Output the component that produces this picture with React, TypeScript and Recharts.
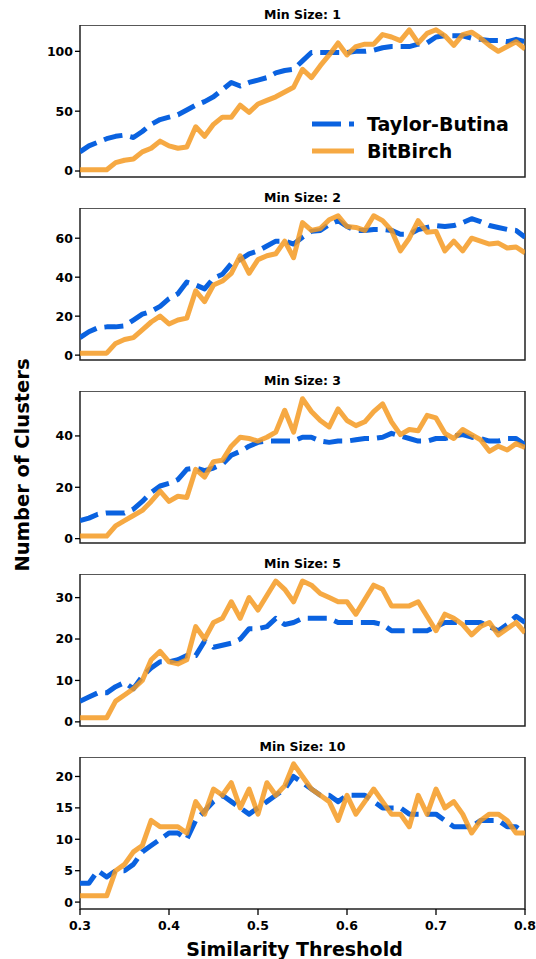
import { LineChart, Line, XAxis, YAxis, ReferenceArea } from 'recharts';

const THRESHOLDS = [
  0.3, 0.31, 0.32, 0.33, 0.34, 0.35, 0.36, 0.37, 0.38, 0.39,
  0.4, 0.41, 0.42, 0.43, 0.44, 0.45, 0.46, 0.47, 0.48, 0.49,
  0.5, 0.51, 0.52, 0.53, 0.54, 0.55, 0.56, 0.57, 0.58, 0.59,
  0.6, 0.61, 0.62, 0.63, 0.64, 0.65, 0.66, 0.67, 0.68, 0.69,
  0.7, 0.71, 0.72, 0.73, 0.74, 0.75, 0.76, 0.77, 0.78, 0.79, 0.8,
];
const X_TICKS = [0.3, 0.4, 0.5, 0.6, 0.7, 0.8];

// min size 1
const TB_1 = [
  16, 21, 24, 27, 29, 30, 28, 33, 39, 43,
  45, 47, 51, 55, 58, 62, 68, 74, 71, 74,
  76, 78, 82, 84, 85, 92, 99, 99, 99, 99,
  99, 100, 100, 101, 103, 104, 104, 104, 106, 107,
  112, 113, 113, 113, 111, 110, 109, 109, 108, 110, 108,
];
const BB_1 = [
  1, 1, 1, 1, 7, 9, 10, 16, 19, 25,
  21, 19, 20, 37, 29, 39, 45, 45, 55, 49,
  56, 59, 62, 66, 70, 85, 78, 88, 97, 107,
  97, 104, 106, 106, 114, 112, 109, 118, 107, 115,
  118, 113, 105, 114, 116, 111, 105, 100, 104, 108, 102,
];

// min size 2
const TB_2 = [
  9, 12, 14, 14.5, 14.5, 15, 18, 21, 22.5, 25,
  29, 31.5, 37.5, 36, 34, 39.5, 41.5, 47, 49, 52,
  53.5, 56, 58.5, 58.5, 57, 60.5, 63.5, 64, 67, 69,
  66, 64, 64, 64.5, 64.5, 64, 62, 62, 64.5, 65.5,
  66.5, 66, 66.5, 68, 70, 68.5, 66.5, 65.5, 64.5, 64, 60.5,
];
const BB_2 = [
  1, 1, 1, 1, 6, 8, 9, 13, 17, 20,
  16, 18, 19, 33, 27.5, 36, 38, 42, 51, 42,
  49, 51, 52, 58.5, 50, 68, 64, 65, 69.5, 71.5,
  66, 65.5, 64, 71.5, 69, 64, 53.5, 60, 69, 63,
  63.5, 53.5, 58.5, 53.5, 60, 58.5, 57, 57.5, 55, 55.5, 52.5,
];

// min size 3
const TB_3 = [
  7, 8, 9.5, 10, 10, 10, 11.5, 14.5, 18, 20.5,
  21.5, 23, 27, 27.5, 26.5, 27.5, 29, 32.5, 34, 36,
  37.5, 38, 38, 38, 38, 39.5, 39.5, 38, 37.5, 38,
  38, 38.5, 39, 39, 39.5, 41, 40, 39, 38, 38,
  39, 39, 40, 40.5, 39.5, 39, 38, 38, 39, 39, 36.5,
];
const BB_3 = [
  1, 1, 1, 1, 5, 7, 9, 11, 14.5, 18.5,
  14.5, 16.5, 16, 27, 24, 30, 30.5, 36, 39.5, 39,
  38, 39.5, 41.5, 50, 41.5, 54.5, 49.5, 46, 43.5, 50.5,
  46, 44, 45.5, 49.5, 52.5, 45.5, 40.5, 42.5, 42, 48,
  47, 41, 39, 42.5, 40.5, 38.5, 34, 36, 34.5, 37, 35.5,
];

// min size 5
const TB_5 = [
  5, 6, 7, 7, 8.5, 9.5, 8, 11, 13, 14.5,
  14.5, 15, 16, 16, 19.5, 18, 18.5, 19, 20, 22.5,
  22.5, 23, 25, 23.5, 24, 25, 25, 25, 25, 24,
  24, 24, 24, 24, 23.5, 22, 22, 22, 22, 22,
  23, 24, 24, 24, 24, 24, 23, 22, 23.5, 25.5, 24,
];
const BB_5 = [
  1, 1, 1, 1, 5, 6.5, 8, 10, 15, 17,
  14.5, 14, 15, 23, 20, 24, 25, 29, 25, 30,
  27, 30.5, 34, 32, 29, 34, 33, 31, 30, 29,
  29, 26, 29.5, 33, 32, 28, 28, 28, 29, 25.5,
  22, 26, 25, 23.5, 21, 23, 24, 21, 22.5, 24, 21.5,
];

// min size 10
const TB_10 = [
  3, 3, 5, 4, 5, 5, 6, 8, 9, 10,
  11, 11, 10, 13, 14.5, 16, 17, 16, 15, 14,
  15, 16, 17, 18, 20, 19, 18, 17, 17, 16,
  17, 17, 17, 16, 15, 15, 15, 14, 14, 14,
  14, 13, 12, 12, 12, 13, 13, 13, 12, 12, 11,
];
const BB_10 = [
  1, 1, 1, 1, 5, 6, 8, 9, 13, 12,
  12, 12, 11, 16, 14, 18, 17, 19, 15, 18,
  14, 19, 17, 18.5, 22, 20, 18, 17, 16, 13,
  17, 14, 16, 18, 16, 14, 14, 12, 17, 14,
  18, 15, 16, 14, 11, 13, 14, 14, 13, 11, 11,
];

const PANELS = [
  { title: 'Min Size: 1', tb: TB_1, bb: BB_1, domain: [-5, 122], ticks: [0, 50, 100] },
  { title: 'Min Size: 2', tb: TB_2, bb: BB_2, domain: [-2.5, 75.5], ticks: [0, 20, 40, 60] },
  { title: 'Min Size: 3', tb: TB_3, bb: BB_3, domain: [-1.7, 57.5], ticks: [0, 20, 40] },
  { title: 'Min Size: 5', tb: TB_5, bb: BB_5, domain: [-1, 35.7], ticks: [0, 10, 20, 30] },
  { title: 'Min Size: 10', tb: TB_10, bb: BB_10, domain: [-1.1, 23.1], ticks: [0, 5, 10, 15, 20] },
];

const BLUE = '#0a62e0';
const ORANGE = '#f59a22';
const FONT = '"DejaVu Sans", Verdana, sans-serif';
const PLOT_LEFT = 80;
const PLOT_RIGHT = 525;
const PLOT_H = 152;
const TOPS = [25, 208, 391, 574, 757];

function Panel({ p, top, last }: { p: any; top: number; last: boolean }) {
  const data = THRESHOLDS.map((t, i) => ({ t, tb: p.tb[i], bb: p.bb[i] }));
  const tickStyle = { fill: '#000', fontSize: 12.5, fontWeight: 700, fontFamily: FONT };
  return (
    <div style={{ position: 'absolute', left: 0, top }}>
      <LineChart
        width={536}
        height={PLOT_H + 30}
        data={data}
        margin={{ top: 0, right: 536 - PLOT_RIGHT, bottom: 0, left: 0 }}
      >
        <XAxis
          dataKey="t"
          type="number"
          domain={[0.3, 0.8]}
          ticks={X_TICKS}
          height={30}
          axisLine={false}
          tickSize={6}
          tickMargin={6}
          tickLine={{ stroke: '#000', strokeWidth: 1.3 }}
          tick={last ? tickStyle : false}
          tickFormatter={(v: number) => v.toFixed(1)}
          allowDataOverflow
        />
        <YAxis
          type="number"
          domain={p.domain}
          ticks={p.ticks}
          width={PLOT_LEFT}
          axisLine={false}
          tickSize={5}
          tickLine={{ stroke: '#000', strokeWidth: 1.3 }}
          tick={tickStyle}
          allowDataOverflow
        />
        <ReferenceArea
          x1={0.3}
          x2={0.8}
          y1={p.domain[0]}
          y2={p.domain[1]}
          fill="none"
          stroke="#222"
          strokeWidth={1.5}
          ifOverflow="extendDomain"
        />
        <Line
          dataKey="tb"
          stroke={BLUE}
          strokeWidth={5}
          strokeDasharray="19 8"
          strokeLinejoin="round"
          dot={false}
          isAnimationActive={false}
        />
        <Line
          dataKey="bb"
          stroke={ORANGE}
          strokeOpacity={0.85}
          strokeWidth={5}
          strokeLinejoin="round"
          dot={false}
          isAnimationActive={false}
        />
      </LineChart>
      <div
        style={{
          position: 'absolute',
          left: PLOT_LEFT,
          width: PLOT_RIGHT - PLOT_LEFT,
          top: -18,
          textAlign: 'center',
          fontFamily: FONT,
          fontWeight: 700,
          fontSize: 12.5,
          color: '#000',
        }}
      >
        {p.title}
      </div>
    </div>
  );
}

export default function App() {
  return (
    <div
      style={{
        position: 'absolute',
        left: 0,
        top: 0,
        width: 536,
        height: 959,
        background: '#fff',
        overflow: 'hidden',
      }}
    >
      {PANELS.map((p, i) => (
        <Panel key={p.title} p={p} top={TOPS[i]} last={i === PANELS.length - 1} />
      ))}

      {/* legend sits inside the first panel */}
      <div style={{ position: 'absolute', left: 310, top: 110, fontFamily: FONT, fontWeight: 700, fontSize: 19 }}>
        <div style={{ display: 'flex', alignItems: 'center', height: 27 }}>
          <svg width={46} height={10}>
            <line x1={2} y1={5} x2={44} y2={5} stroke={BLUE} strokeWidth={5} strokeDasharray="29 8" />
          </svg>
          <span style={{ marginLeft: 11 }}>Taylor-Butina</span>
        </div>
        <div style={{ display: 'flex', alignItems: 'center', height: 27 }}>
          <svg width={46} height={10}>
            <line x1={2} y1={5} x2={44} y2={5} stroke={ORANGE} strokeOpacity={0.85} strokeWidth={5} />
          </svg>
          <span style={{ marginLeft: 11 }}>BitBirch</span>
        </div>
      </div>

      <div
        style={{
          position: 'absolute',
          left: 22,
          top: 465,
          transform: 'translate(-50%, -50%) rotate(-90deg)',
          whiteSpace: 'nowrap',
          fontFamily: FONT,
          fontWeight: 700,
          fontSize: 19.5,
        }}
      >
        Number of Clusters
      </div>
      <div
        style={{
          position: 'absolute',
          left: PLOT_LEFT - 8,
          width: PLOT_RIGHT - PLOT_LEFT,
          top: 938,
          textAlign: 'center',
          fontFamily: FONT,
          fontWeight: 700,
          fontSize: 19,
        }}
      >
        Similarity Threshold
      </div>
    </div>
  );
}
